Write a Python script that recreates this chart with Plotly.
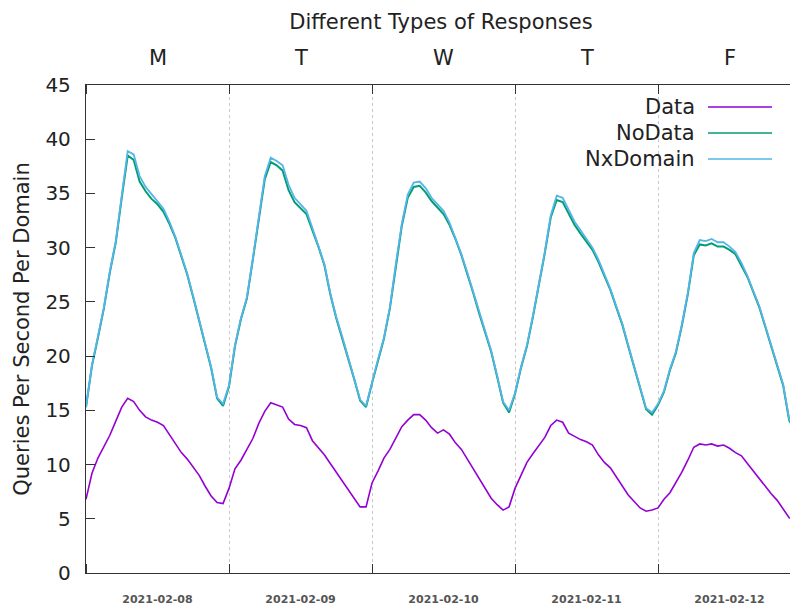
import pandas as pd
import plotly.graph_objects as go

# hourly samples starting 2021-02-08 00:00
start = "2021-02-08 00:00"
n_hours = 120

data_vals = [
    6.8, 9.2, 10.6, 11.6, 12.7, 14.0, 15.3, 16.1, 15.8, 15.0, 14.4, 14.1,
    13.9, 13.6, 12.8, 11.9, 11.1, 10.5, 9.8, 9.0, 8.0, 7.1, 6.5, 6.4,
    7.8, 9.6, 10.4, 11.4, 12.4, 13.8, 14.9, 15.7, 15.5, 15.3, 14.2, 13.7,
    13.6, 13.4, 12.2, 11.6, 10.9, 10.1, 9.3, 8.4, 7.6, 6.8, 6.1, 6.1,
    8.3, 9.4, 10.6, 11.4, 12.4, 13.5, 14.1, 14.6, 14.6, 14.1, 13.4, 12.9,
    13.2, 12.8, 12.0, 11.4, 10.5, 9.6, 8.7, 7.9, 6.9, 6.3, 5.8, 6.1,
    7.8, 9.0, 10.2, 11.0, 11.7, 12.5, 13.6, 14.1, 13.9, 12.9, 12.6, 12.3,
    12.1, 11.8, 10.9, 10.2, 9.7, 8.9, 8.1, 7.2, 6.6, 6.0, 5.7, 5.8,
    6.0, 6.8, 7.4, 8.3, 9.3, 10.4, 11.6, 11.9, 11.8, 11.9, 11.7, 11.8,
    11.5, 11.1, 10.8, 10.1, 9.4, 8.6, 8.0, 7.3, 6.7, 5.9, 5.1, 4.8,
]

nodata_vals = [
    15.3, 19.1, 21.7, 24.4, 27.7, 30.5, 34.6, 38.5, 38.1, 36.1, 35.2, 34.5,
    34.0, 33.3, 32.2, 30.9, 29.2, 27.5, 25.4, 23.3, 21.0, 18.9, 16.1, 15.4,
    17.2, 20.9, 23.4, 25.3, 28.9, 32.6, 36.3, 37.9, 37.6, 37.1, 35.3, 34.2,
    33.6, 33.1, 31.6, 30.1, 28.4, 25.7, 23.5, 21.7, 19.8, 17.9, 15.9, 15.3,
    17.5, 19.6, 21.6, 24.4, 28.4, 32.0, 34.6, 35.6, 35.7, 35.1, 34.3, 33.7,
    33.1, 32.1, 30.8, 29.3, 27.6, 25.8, 23.9, 22.1, 20.4, 18.1, 15.7, 14.8,
    16.5, 18.9, 20.9, 23.6, 26.4, 29.5, 32.8, 34.4, 34.2, 33.1, 32.1, 31.3,
    30.5, 29.8, 28.7, 27.4, 26.1, 24.5, 22.9, 20.9, 18.9, 17.0, 15.1, 14.6,
    15.5, 16.7, 18.7, 20.3, 22.8, 25.7, 29.3, 30.3, 30.2, 30.4, 30.1, 30.1,
    29.8, 29.4, 28.4, 27.3, 25.9, 24.5, 22.7, 20.9, 19.2, 17.3, 14.1, 13.1,
]

nxdomain_vals = [
    15.3, 19.2, 21.8, 24.5, 27.8, 30.6, 34.8, 38.9, 38.6, 36.6, 35.6, 34.9,
    34.3, 33.6, 32.4, 31.0, 29.3, 27.6, 25.5, 23.4, 21.1, 19.0, 16.2, 15.6,
    17.3, 21.0, 23.5, 25.4, 29.0, 32.8, 36.6, 38.3, 38.0, 37.6, 35.8, 34.6,
    34.0, 33.4, 31.8, 30.2, 28.5, 25.8, 23.6, 21.8, 19.9, 18.0, 16.0, 15.4,
    17.6, 19.7, 21.7, 24.5, 28.5, 32.2, 34.9, 36.0, 36.1, 35.5, 34.6, 34.0,
    33.4, 32.3, 30.9, 29.4, 27.7, 25.9, 24.0, 22.2, 20.5, 18.2, 15.8, 15.0,
    16.6, 19.0, 21.0, 23.7, 26.5, 29.6, 33.0, 34.8, 34.6, 33.5, 32.4, 31.6,
    30.8, 30.0, 28.9, 27.5, 26.2, 24.6, 23.0, 21.0, 19.0, 17.1, 15.2, 14.8,
    15.6, 16.8, 18.8, 20.4, 22.9, 25.8, 29.5, 30.7, 30.6, 30.8, 30.5, 30.5,
    30.1, 29.6, 28.6, 27.4, 26.0, 24.6, 22.8, 21.0, 19.3, 17.4, 14.2, 13.2,
]

series_names = ["Data", "NoData", "NxDomain"]
series_colors = ["#9400d3", "#009e73", "#56b4e9"]
series_widths = [1.6, 2.0, 1.8]
day_letters = ["M", "T", "W", "T", "F"]
day_dates = ["2021-02-08", "2021-02-09", "2021-02-10", "2021-02-11", "2021-02-12"]

times = pd.date_range(start, periods=n_hours, freq="h")
FONT = "DejaVu Sans"
TXT = "#222222"
AX = "#333333"

fig = go.Figure()
for name, vals, col, wd in zip(series_names, [data_vals, nodata_vals, nxdomain_vals],
                               series_colors, series_widths):
    fig.add_trace(go.Scatter(x=times, y=vals, mode="lines", name=name,
                             line=dict(color=col, width=wd), showlegend=False))

# manual gnuplot-style legend (text left, sample right)
L, R, T, B, W, H = 86, 790, 85, 573, 790, 608
pw, ph = R - L, B - T
for i, (name, col) in enumerate(zip(series_names, series_colors)):
    py = 107 + 26 * i
    yp = 1 - (py - T) / ph
    fig.add_annotation(x=(695 - L) / pw, y=yp, xref="paper", yref="paper",
                       text=name, showarrow=False, xanchor="right", yanchor="middle",
                       xshift=2, font=dict(family=FONT, size=21, color=TXT))
    fig.add_shape(type="line", xref="paper", yref="paper",
                  x0=(708 - L) / pw, x1=(772 - L) / pw, y0=yp, y1=yp,
                  line=dict(color=col, width=1.6))

# top day letters
for d, letter in zip(day_dates, day_letters):
    fig.add_annotation(x=d + " 12:00", y=1, xref="x", yref="paper", text=letter,
                       showarrow=False, yanchor="bottom", yshift=13,
                       font=dict(family=FONT, size=21, color=TXT))

fig.update_layout(
    width=W, height=H,
    margin=dict(l=L, r=W - R, t=T, b=H - B),
    paper_bgcolor="white", plot_bgcolor="white",
    font=dict(family=FONT, color=TXT),
    title=dict(text="Different Types of Responses", x=441 / W, xanchor="center",
               y=1 - 22 / H, yanchor="middle", font=dict(family=FONT, size=21, color=TXT)),
    xaxis=dict(
        type="date",
        range=["2021-02-08 00:00", "2021-02-12 22:09"],
        tick0="2021-02-08", dtick=86400000, tickformat="%Y-%m-%d",
        ticklabelmode="period",
        ticks="inside", ticklen=9, tickcolor=AX, tickwidth=1,
        showline=True, linecolor=AX, linewidth=1.3, mirror="allticks",
        showgrid=True, gridcolor="#c8c8c8", griddash="dot", gridwidth=1,
        tickfont=dict(family=FONT, size=11, color="#555555", weight="bold"),
        ticklabelstandoff=16, zeroline=False,
    ),
    yaxis=dict(
        range=[0, 45], dtick=5, tick0=0,
        ticks="inside", ticklen=9, tickcolor=AX,
        showline=True, linecolor=AX, linewidth=1.3,
        showgrid=False, zeroline=False,
        tickfont=dict(family=FONT, size=20, color=TXT),
        ticklabelstandoff=10,
        title=dict(text="Queries Per Second Per Domain", font=dict(family=FONT, size=21, color=TXT),
                   standoff=10),
    ),
    yaxis2=dict(
        overlaying="y", side="right", anchor="x", range=[0, 45], dtick=5, tick0=0,
        ticks="inside", ticklen=4, tickcolor=AX, showticklabels=False,
        showline=False, showgrid=False, zeroline=False,
    ),
)

fig.write_html("out.html")
